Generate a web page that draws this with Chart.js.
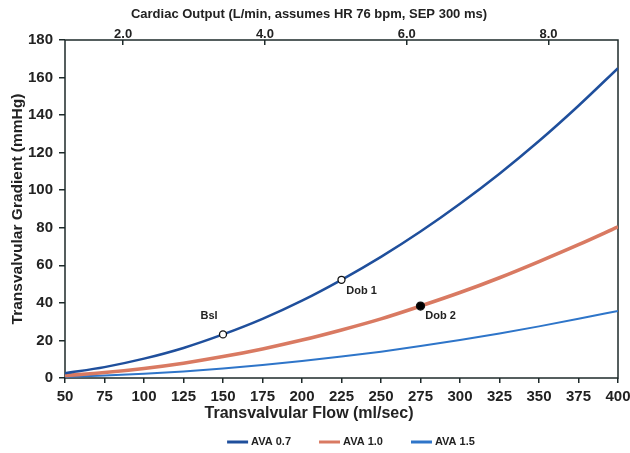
<!DOCTYPE html>
<html><head><meta charset="utf-8">
<script src="https://cdn.jsdelivr.net/npm/chart.js@4.4.0/dist/chart.umd.min.js"></script>
<style>html,body{margin:0;padding:0;background:#fff}</style>
</head><body>
<canvas id="c" width="630" height="453"></canvas>
<script>
// ---- data ----
const flows = [50, 75, 100, 125, 150, 175, 200, 225, 250, 275, 300, 325, 350, 375, 400];
const ava07 = [2.5, 5.8, 10.3, 16.0, 23.2, 31.5, 41.2, 52.3, 64.5, 78.0, 92.8, 108.8, 126.2, 145.0, 165.0];
const ava10 = [1.3, 2.9, 5.1, 7.9, 11.4, 15.5, 20.2, 25.6, 31.5, 38.3, 45.5, 53.4, 62.0, 71.0, 80.5];
const ava15 = [0.6, 1.3, 2.3, 3.5, 5.0, 6.9, 9.0, 11.4, 14.0, 17.0, 20.2, 23.7, 27.5, 31.5, 35.7];
const seriesLabels = ['AVA 0.7', 'AVA 1.0', 'AVA 1.5'];
const flowTicks = [50, 75, 100, 125, 150, 175, 200, 225, 250, 275, 300, 325, 350, 375, 400];
const gradientTicks = [0, 20, 40, 60, 80, 100, 120, 140, 160, 180];
const coTicks = [2, 4, 6, 8];
const coRange = [1.18, 8.98];
const markerNames = ['Bsl', 'Dob 1', 'Dob 2'];
const markerFlows = [150, 225, 275];
const markerSeriesIdx = [0, 0, 1];
const markerFilled = [false, false, true];

// ---- styles ----
const FONT = '"Liberation Sans", Arial, sans-serif';
const TEXT = '#222';
const FRAME = '#1e2a2a';
const colors = ['#1f4f9c', '#d97a62', '#2e75c9'];
const widths = [2.5, 3.6, 2];
const labelOffsets = [[-14, -18], [20, 11], [20, 10]];

const allSeries = [ava07, ava10, ava15];
const toXY = vals => flows.map((f, i) => ({x: f, y: vals[i]}));
const markerData = markerFlows.map((f, i) => ({x: f, y: allSeries[markerSeriesIdx[i]][flows.indexOf(f)]}));

const datasets = allSeries.map((vals, i) => ({
  label: seriesLabels[i], data: toXY(vals), borderColor: colors[i], backgroundColor: colors[i],
  borderWidth: widths[i], pointRadius: 0, cubicInterpolationMode: 'monotone', fill: false, inLegend: true, order: 2
}));
datasets.push({
  label: 'markers', isMarkers: true, data: markerData, showLine: false, order: 0,
  pointRadius: markerFilled.map(f => f ? 4 : 3.5),
  pointBackgroundColor: markerFilled.map(f => f ? '#000' : '#fff'),
  pointBorderColor: '#111', pointBorderWidth: 1.3
});

const framePlugin = {
  id: 'frame',
  beforeDatasetsDraw(chart) {
    const {ctx, chartArea: a} = chart;
    ctx.save(); ctx.strokeStyle = FRAME; ctx.lineWidth = 1.5;
    ctx.strokeRect(a.left, a.top, a.right - a.left, a.bottom - a.top);
    ctx.restore();
  }
};
const markerLabelPlugin = {
  id: 'markerLabels',
  afterDatasetsDraw(chart) {
    const idx = chart.data.datasets.findIndex(d => d.isMarkers);
    const meta = chart.getDatasetMeta(idx);
    const ctx = chart.ctx;
    ctx.save();
    ctx.font = 'bold 11px ' + FONT; ctx.fillStyle = TEXT; ctx.textAlign = 'center'; ctx.textBaseline = 'middle';
    meta.data.forEach((el, i) => ctx.fillText(markerNames[i], el.x + labelOffsets[i][0], el.y + labelOffsets[i][1]));
    ctx.restore();
  }
};
const legendPlugin = {
  id: 'customLegend',
  afterDraw(chart) {
    const ctx = chart.ctx;
    ctx.save();
    ctx.font = 'bold 11px ' + FONT;
    const items = chart.data.datasets.filter(d => d.inLegend);
    const lineW = 21, gap = 3, spacing = 28;
    const w = items.map(d => lineW + gap + ctx.measureText(d.label).width);
    const total = w.reduce((a, b) => a + b, 0) + spacing * (items.length - 1);
    let x = 351 - total / 2;
    const y = chart.height - 11;
    items.forEach((d, i) => {
      ctx.strokeStyle = d.borderColor; ctx.lineWidth = 3;
      ctx.beginPath(); ctx.moveTo(x, y); ctx.lineTo(x + lineW, y); ctx.stroke();
      ctx.fillStyle = TEXT; ctx.textBaseline = 'middle'; ctx.textAlign = 'left';
      ctx.fillText(d.label, x + lineW + gap, y);
      x += w[i] + spacing;
    });
    ctx.restore();
  }
};
const noSidePad = s => { s.paddingLeft = 0; s.paddingRight = 0; };

new Chart(document.getElementById('c'), {
  type: 'line',
  data: {datasets},
  options: {
    responsive: false, animation: false, devicePixelRatio: 1,
    layout: {padding: {left: 0, right: 12, top: 0, bottom: 29.4}},
    plugins: {
      legend: {display: false}, tooltip: {enabled: false},
      subtitle: {display: true, position: 'top', text: 'Cardiac Output (L/min, assumes HR 76 bpm, SEP 300 ms)',
        color: TEXT, font: {family: FONT, size: 13, weight: 'bold', lineHeight: 1.2}, padding: {top: 7, bottom: 0}},
      title: {display: true, position: 'bottom', text: 'Transvalvular Flow (ml/sec)',
        color: TEXT, font: {family: FONT, size: 16, weight: 'bold', lineHeight: 1.2}, padding: {top: 2, bottom: 0}}
    },
    scales: {
      x: {type: 'linear', position: 'bottom', min: 50, max: 400,
        afterBuildTicks: s => { s.ticks = flowTicks.map(v => ({value: v})); },
        ticks: {color: TEXT, font: {family: FONT, size: 15, weight: 'bold'}, padding: 5, maxRotation: 0},
        grid: {display: true, drawOnChartArea: false, tickLength: 5, color: FRAME, lineWidth: 1.5},
        border: {display: false},
        afterFit: s => { s.height = 24.4; noSidePad(s); }},
      x2: {type: 'linear', position: 'top', min: coRange[0], max: coRange[1],
        afterBuildTicks: s => { s.ticks = coTicks.map(v => ({value: v})); },
        ticks: {color: TEXT, font: {family: FONT, size: 13, weight: 'bold'}, padding: 3, callback: v => v.toFixed(1)},
        grid: {display: true, drawOnChartArea: false, tickLength: -5, color: FRAME, lineWidth: 1.5},
        border: {display: false},
        afterFit: s => { s.height = 17.4; noSidePad(s); }},
      y: {type: 'linear', position: 'left', min: 0, max: 180,
        afterBuildTicks: s => { s.ticks = gradientTicks.map(v => ({value: v})); },
        ticks: {color: TEXT, font: {family: FONT, size: 15, weight: 'bold'}, padding: 6},
        grid: {display: true, drawOnChartArea: false, tickLength: 6, color: FRAME, lineWidth: 1.5},
        border: {display: false},
        title: {display: true, text: 'Transvalvular Gradient (mmHg)', color: TEXT,
          font: {family: FONT, size: 15.5, weight: 'bold', lineHeight: 1}, padding: {top: 9.5, bottom: 0}},
        afterFit: s => { s.width = 65; }}
    }
  },
  plugins: [framePlugin, markerLabelPlugin, legendPlugin]
});
</script>
</body></html>
